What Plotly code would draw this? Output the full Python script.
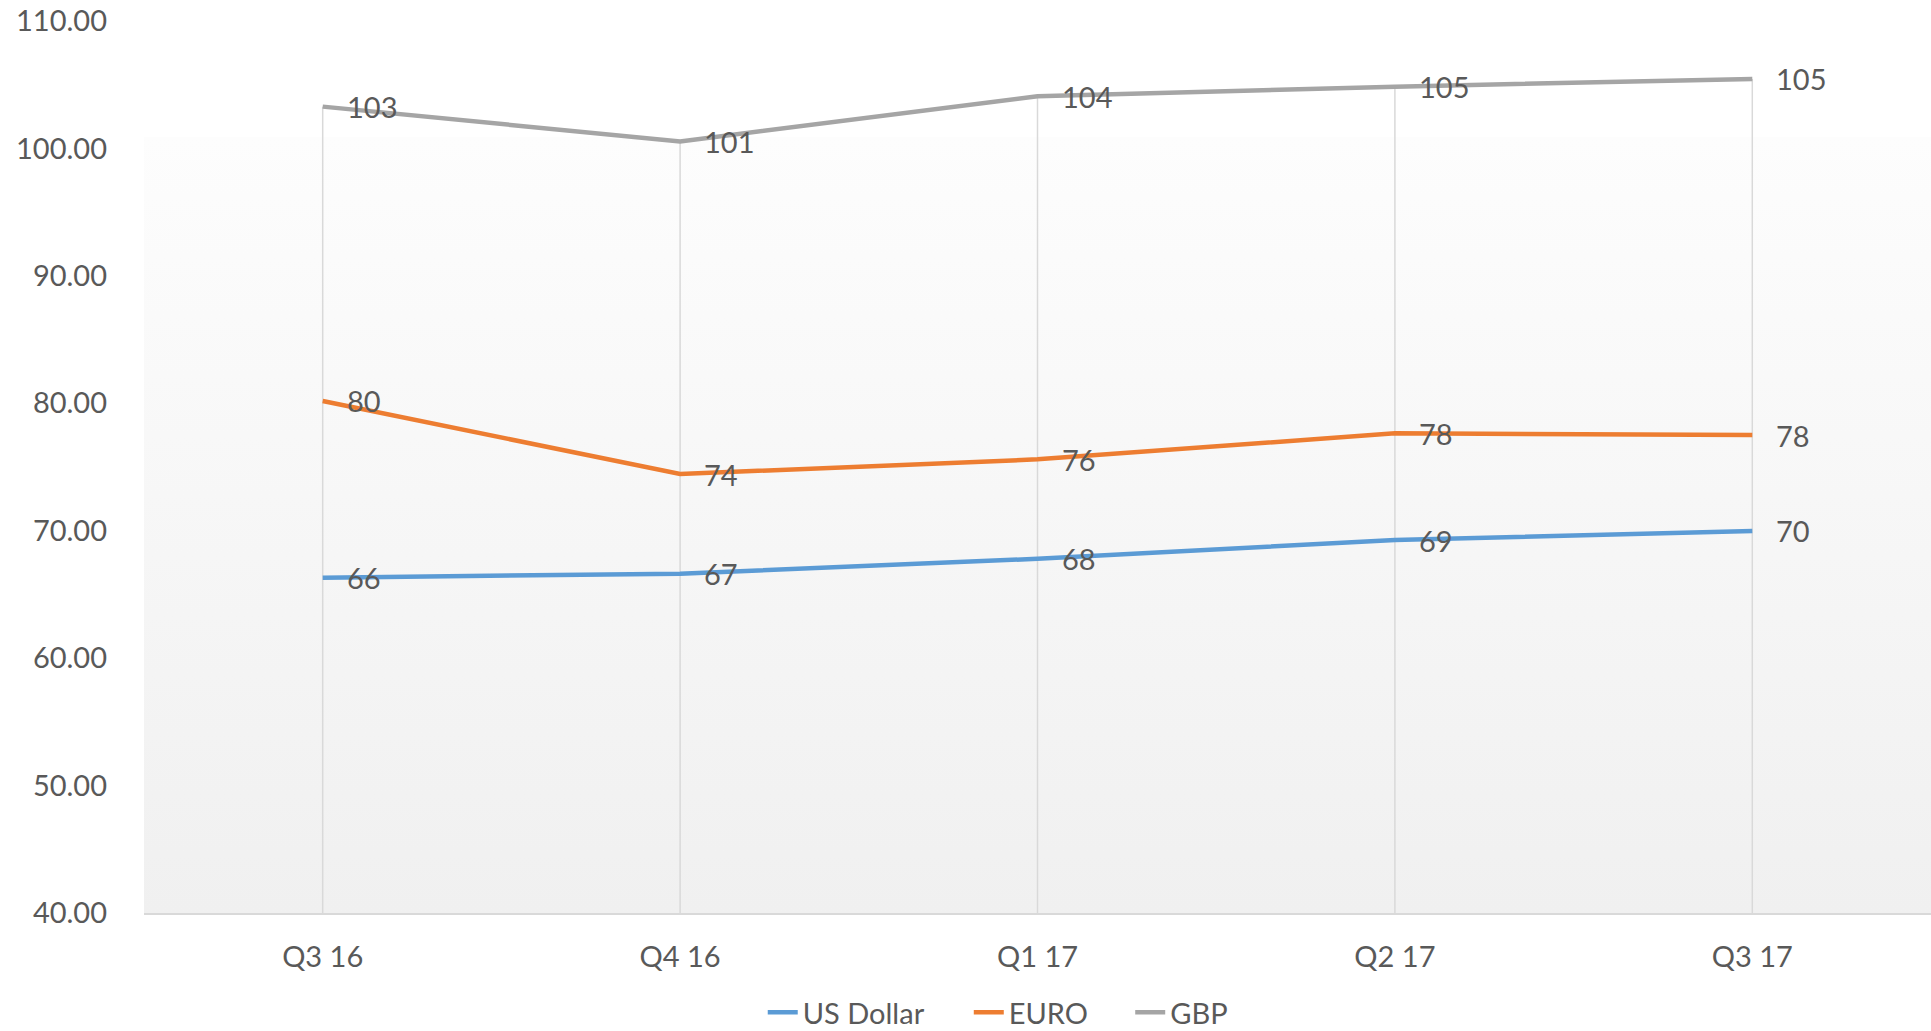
import base64
import plotly.graph_objects as go

quarters = ["Q3 16", "Q4 16", "Q1 17", "Q2 17", "Q3 17"]
us_dollar = [66.31, 66.63, 67.8, 69.27, 69.98]
euro = [80.18, 74.45, 75.6, 77.64, 77.51]
gbp = [103.28, 100.55, 104.1, 104.85, 105.45]

series = [("US Dollar", us_dollar, "#5b9bd5"),
          ("EURO", euro, "#ed7d31"),
          ("GBP", gbp, "#a5a5a5")]

y_min, y_max = 40, 110
font = "Lato, 'Open Sans', sans-serif"
txt = "#595959"
fs = 29

fig = go.Figure()

# drop lines from highest series value down to the category axis
dx, dy = [], []
for i, q in enumerate(quarters):
    top = max(s[1][i] for s in series)
    dx += [q, q, None]
    dy += [y_min, top, None]
fig.add_trace(go.Scatter(x=dx, y=dy, mode="lines", line=dict(color="#d9d9d9", width=1.5),
                         showlegend=False, hoverinfo="skip"))

legend_ids = ["legend", "legend2", "legend3"]
legend_x = [0.3950, 0.5017, 0.5853]  # container fraction of each legend entry

for (name, vals, col), lg in zip(series, legend_ids):
    fig.add_trace(go.Scatter(
        x=quarters, y=vals, name=name, mode="lines", legend=lg,
        line=dict(color=col, width=4.5),
    ))

# data labels
annotations = []
for name, vals, col in series:
    for q, v in zip(quarters, vals):
        annotations.append(dict(
            x=q, y=v, xref="x", yref="y", text=f"{v:.0f}", showarrow=False,
            xanchor="left", yanchor="middle", xshift=22, yshift=0,
            font=dict(family=font, size=fs, color=txt),
        ))

svg = ('<svg xmlns="http://www.w3.org/2000/svg" width="100" height="100" preserveAspectRatio="none">'
       '<defs><linearGradient id="g" x1="0" y1="0" x2="0" y2="1">'
       '<stop offset="0" stop-color="#fdfdfd"/><stop offset="1" stop-color="#f0f0f0"/>'
       '</linearGradient></defs><rect width="100" height="100" fill="url(#g)"/></svg>')
src = "data:image/svg+xml;base64," + base64.b64encode(svg.encode()).decode()

legend_common = dict(orientation="h", xref="container", yref="container", y=0.018,
                     xanchor="left", yanchor="middle", font=dict(size=fs, color=txt),
                     bgcolor="rgba(0,0,0,0)", borderwidth=0)

fig.update_layout(
    width=1931, height=1031,
    margin=dict(l=144, r=0, t=21, b=118, autoexpand=False),
    paper_bgcolor="white", plot_bgcolor="white",
    font=dict(family=font, size=fs, color=txt),
    annotations=annotations,
    images=[dict(source=src, xref="paper", yref="paper", x=0, y=0.87, sizex=1, sizey=0.87,
                 xanchor="left", yanchor="top", sizing="stretch", layer="below")],
    xaxis=dict(type="category", range=[-0.5, 4.5], showgrid=False, zeroline=False,
               showline=True, linecolor="#d9d9d9", linewidth=2, ticks="", automargin=False,
               ticklabelstandoff=17, tickfont=dict(size=fs, color=txt)),
    yaxis=dict(range=[y_min, y_max], dtick=10, tickformat=".2f", showgrid=False,
               zeroline=False, showline=False, ticks="", ticklabelstandoff=36, automargin=False,
               ticklabeloverflow="allow", tickfont=dict(size=fs, color=txt)),
    legend=dict(x=legend_x[0], **legend_common),
    legend2=dict(x=legend_x[1], **legend_common),
    legend3=dict(x=legend_x[2], **legend_common),
    showlegend=True,
)

fig.write_html("out.html", config={"displayModeBar": False},
               post_script="document.body.style.margin='0';document.body.style.overflow='hidden';")
